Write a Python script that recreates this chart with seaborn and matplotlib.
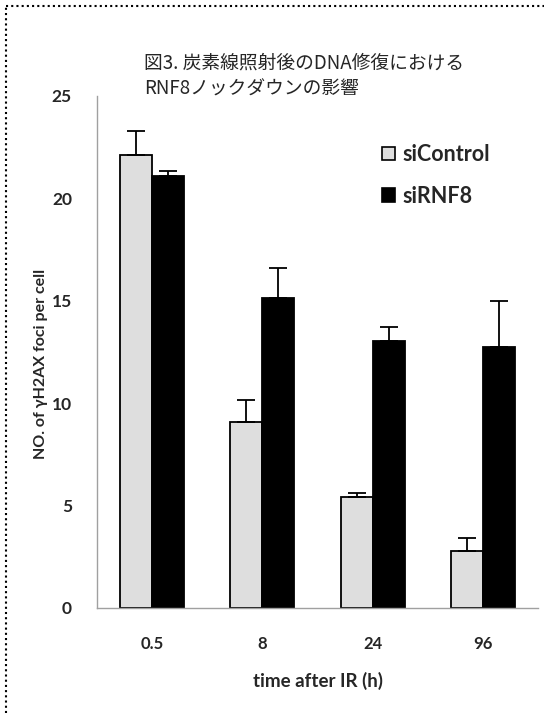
#!/usr/bin/env python
# -*- coding: utf-8 -*-

import numpy as np
import pandas as pd
import matplotlib
matplotlib.use('Agg')
import matplotlib.pyplot as plt
from matplotlib.lines import Line2D
from matplotlib.patches import Patch
import seaborn as sns

# Datos
times = ['0.5', '8', '24', '96']
groups = ['siControl', 'siRNF8']
si_control = [22.1, 9.1, 5.4, 2.8]
si_control_err = [1.2, 1.05, 0.2, 0.6]
si_rnf8 = [21.1, 15.15, 13.05, 12.75]
si_rnf8_err = [0.25, 1.45, 0.65, 2.25]

colors = ['#dedede', '#000000']

sns.set_style('white')
plt.rcParams['font.family'] = ['Lato', 'Noto Sans CJK JP', 'DejaVu Sans']

df = pd.DataFrame({
  'time': times * 2,
  'group': [groups[0]] * 4 + [groups[1]] * 4,
  'value': si_control + si_rnf8,
})

fig = plt.figure(figsize=(5.44, 7.13), dpi=100)
ax = fig.add_axes([0.1783, 0.1473, 0.8107, 0.7181])

sns.barplot(data=df, x='time', y='value', hue='group', order=times,
            hue_order=groups, palette=colors, errorbar=None, width=0.58,
            edgecolor='black', linewidth=1.3, legend=False, ax=ax)

# Barras de error (solo hacia arriba)
for cont, errs, vals in zip(ax.containers, [si_control_err, si_rnf8_err],
                            [si_control, si_rnf8]):
  xs = [p.get_x() + p.get_width() / 2 for p in cont.patches]
  ax.errorbar(xs, vals, yerr=[np.zeros(len(errs)), errs], fmt='none',
              ecolor='black', elinewidth=1.3, capsize=6.5, capthick=1.3, zorder=5)

ax.set_xlim(-0.5, 3.5)
ax.set_ylim(0, 25)
ax.set_yticks([0, 5, 10, 15, 20, 25])
ax.set_xticks(range(4))
ax.set_xticklabels(times, fontsize=12, fontweight='bold')
ax.set_xticks(np.arange(-0.5, 4, 1), minor=True)
ax.tick_params(axis='x', which='major', length=0, pad=20)
ax.tick_params(axis='x', which='minor', length=5, color='#a0a0a0', width=1)
ax.tick_params(axis='y', length=5, color='#a0a0a0', width=1, pad=13)
for lab in ax.get_yticklabels():
  lab.set_fontsize(12.5)
  lab.set_fontweight('bold')

for s in ['top', 'right']:
  ax.spines[s].set_visible(False)
for s in ['left', 'bottom']:
  ax.spines[s].set_color('#a0a0a0')
  ax.spines[s].set_linewidth(1)

ax.set_xlabel('time after IR (h)', fontsize=13.5, fontweight='bold')
ax.set_ylabel('NO. of γH2AX foci per cell', fontsize=11.5, fontweight='bold')
ax.xaxis.set_label_coords(0.5, -0.125)
ax.yaxis.set_label_coords(-0.112, 0.477)

handles = [Patch(facecolor=c, edgecolor='black', linewidth=1.2) for c in colors]
ax.legend(handles, groups, loc='upper left', bbox_to_anchor=(0.646, 0.906),
          frameon=False, prop={'size': 15.5, 'weight': 'bold'}, borderpad=0,
          borderaxespad=0, handlelength=0.6, handleheight=0.6,
          handletextpad=0.35, labelspacing=0.95)

fig.text(0.265, 0.926, '図3. 炭素線照射後のDNA修復における\nRNF8ノックダウンの影響',
         fontsize=13.5, family=['Noto Sans CJK JP', 'DejaVu Sans'],
         ha='left', va='top', linespacing=1.32)

# Borde punteado
fig.add_artist(Line2D([0.011, 0.011], [0.0, 0.992], transform=fig.transFigure,
                      color='black', linestyle=(0, (1, 1.5)), linewidth=1.5))
fig.add_artist(Line2D([0.011, 1.0], [0.992, 0.992], transform=fig.transFigure,
                      color='black', linestyle=(0, (1, 1.5)), linewidth=1.5))

fig.savefig('out.png', dpi=100)
